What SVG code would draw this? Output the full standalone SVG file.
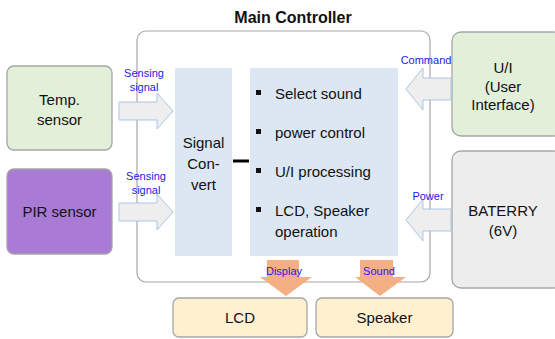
<svg xmlns="http://www.w3.org/2000/svg" width="555" height="339" viewBox="0 0 555 339">
  <defs>
    <style>
      text { font-family: "Liberation Sans", "Noto Sans", sans-serif; fill: #111; }
      .lbl { font-size: 15px; text-anchor: middle; }
      .item { font-size: 15px; }
      .tag { font-size: 11px; fill: #1a1ae6; text-anchor: middle; }
      .title { font-size: 16px; font-weight: bold; text-anchor: middle; }
      .box { stroke: #a6a6a6; stroke-width: 1.3; }
      .inner { fill: #dce7f3; }
      .inarrow { fill: #eeeeee; stroke: #a9c6e3; stroke-width: 1; }
      .outarrow { fill: #f4b083; }
    </style>
  </defs>

  <!-- controller frame -->
  <g id="main-controller">
    <text class="title" x="293" y="23">Main Controller</text>
    <rect x="137" y="31" width="293" height="251" rx="9" fill="#ffffff" stroke="#a6a6a6" stroke-width="1.2"/>
  </g>

  <g id="signal-convert">
    <rect class="inner" x="175" y="68" width="57" height="188"/>
    <text class="lbl" x="203.5" y="148">Signal</text>
    <text class="lbl" x="203.5" y="169">Con-</text>
    <text class="lbl" x="203.5" y="190">vert</text>
  </g>

  <g id="functions">
    <rect class="inner" x="250" y="68" width="148" height="188"/>
    <g fill="#111">
      <rect x="256" y="90" width="5" height="5"/>
      <rect x="256" y="129" width="5" height="5"/>
      <rect x="256" y="168" width="5" height="5"/>
      <rect x="256" y="207" width="5" height="5"/>
    </g>
    <text class="item" x="275" y="99">Select sound</text>
    <text class="item" x="275" y="138">power control</text>
    <text class="item" x="275" y="177">U/I processing</text>
    <text class="item" x="275" y="216">LCD, Speaker</text>
    <text class="item" x="275" y="237">operation</text>
  </g>

  <g id="temp-sensor">
    <rect class="box" x="7" y="66" width="105" height="84" rx="7" fill="#e2efd9"/>
    <text class="lbl" x="59.5" y="105">Temp.</text>
    <text class="lbl" x="59.5" y="125">sensor</text>
  </g>

  <g id="pir-sensor">
    <rect class="box" x="7" y="169" width="105" height="85" rx="7" fill="#a97bd5"/>
    <text class="lbl" x="59.5" y="217">PIR sensor</text>
  </g>

  <g id="user-interface">
    <rect class="box" x="452" y="32" width="110" height="104" rx="9" fill="#e2efd9"/>
    <text class="lbl" x="503" y="73">U/I</text>
    <text class="lbl" x="503" y="92">(User</text>
    <text class="lbl" x="503" y="110">Interface)</text>
  </g>

  <g id="battery">
    <rect class="box" x="452" y="151" width="110" height="137" rx="9" fill="#ededed"/>
    <text class="lbl" x="503" y="216">BATERRY</text>
    <text class="lbl" x="503" y="236">(6V)</text>
  </g>

  <g id="lcd">
    <rect class="box" x="173" y="298" width="134" height="39" rx="6" fill="#fff0cf"/>
    <text class="lbl" x="240" y="323">LCD</text>
  </g>

  <g id="speaker">
    <rect class="box" x="316" y="298" width="137" height="39" rx="6" fill="#fff0cf"/>
    <text class="lbl" x="384.5" y="323">Speaker</text>
  </g>

  <!-- connectors -->
  <g id="connectors">
    <!-- converter to function block -->
    <line x1="233" y1="161" x2="249" y2="161" stroke="#000" stroke-width="3"/>

    <!-- sensor inputs -->
    <polygon class="inarrow" points="119,102 157,102 157,93 173,111 157,129 157,120 119,120"/>
    <text class="tag" x="144" y="77">Sensing</text>
    <text class="tag" x="144" y="91">signal</text>

    <polygon class="inarrow" points="119,203 157,203 157,194 173,212 157,230 157,221 119,221"/>
    <text class="tag" x="146" y="180">Sensing</text>
    <text class="tag" x="146" y="194">signal</text>

    <!-- command and power inputs -->
    <polygon class="inarrow" points="451,78 423,78 423,68 406,89 423,110 423,100 451,100"/>
    <text class="tag" x="426" y="64">Command</text>

    <polygon class="inarrow" points="451,209 423,209 423,199 406,220 423,241 423,231 451,231"/>
    <text class="tag" x="428" y="200">Power</text>

    <!-- outputs -->
    <polygon class="outarrow" points="267,260 299,260 299,277 312,277 286,296 260,277 267,277"/>
    <text class="tag" x="284" y="275">Display</text>

    <polygon class="outarrow" points="360,260 393,260 393,277 406,277 380,296 355,277 360,277"/>
    <text class="tag" x="379" y="275">Sound</text>
  </g>
</svg>
